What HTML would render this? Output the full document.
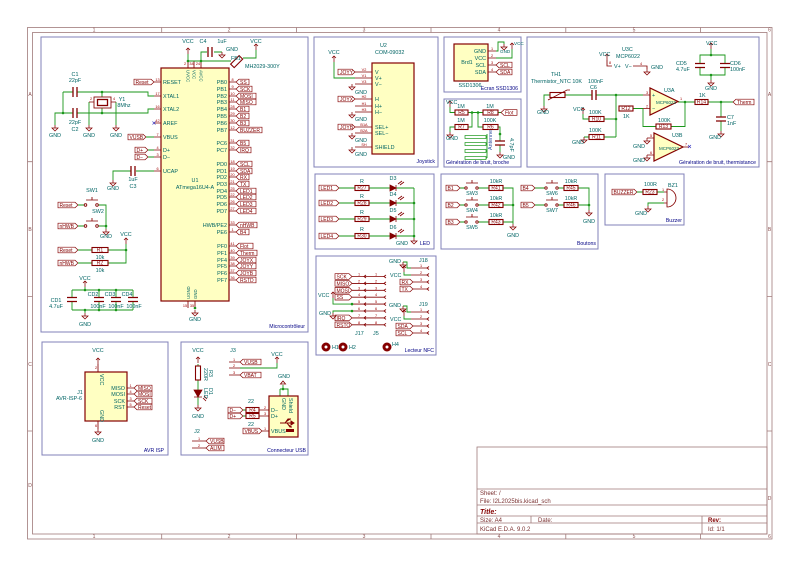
<!DOCTYPE html>
<html><head><meta charset="utf-8">
<style>
html,body{margin:0;padding:0;background:#fff;}
svg{display:block;}
text{font-family:"Liberation Sans",sans-serif;}
.w{stroke:#1a961a;stroke-width:.9;fill:none}
.p{stroke:#840000;stroke-width:.85;fill:none}
.pt{stroke:#840000;stroke-width:1.3;fill:none}
.bd{stroke:#840000;stroke-width:1.2;fill:#ffffc2}
.rs{stroke:#840000;stroke-width:1.1;fill:#fff}
.fr{stroke:#8080b8;stroke-width:1;fill:none}
.brd{stroke:#a07a7a;stroke-width:.8;fill:none}
.lb{stroke:#840000;stroke-width:.65;fill:#fff}
.t{fill:#006464;font-size:5.4px}
.r{fill:#840000;font-size:5px}
.n{fill:#a00000;font-size:3.8px}
.bl{fill:#000084;font-size:5.2px}
.k{fill:#8a5050;font-size:5px}
.tb{fill:#7a3030;font-size:6px}
</style></head><body>
<svg width="800" height="566" viewBox="0 0 800 566" xmlns="http://www.w3.org/2000/svg">
<defs>
<g id="gnd"><path d="M0,0v3M-3,3h6l-3,3z" stroke="#840000" stroke-width=".75" fill="none"/></g>
<g id="vcc"><path d="M0,0v-6M-2,-4l2,-2l2,2" stroke="#840000" stroke-width=".75" fill="none"/></g>
<circle id="dot" r="1.3" fill="#1a961a"/>
</defs>

<!-- ===== Border ===== -->
<rect x="27.5" y="27.5" width="744.5" height="511.5" class="brd"/>
<rect x="32.5" y="32.5" width="734.5" height="501.5" class="brd"/>
<path class="brd" d="M161.7,27.5v5M296.4,27.5v5M431,27.5v5M565.8,27.5v5M700.5,27.5v5M161.7,534v5M296.4,534v5M431,534v5M565.8,534v5M700.5,534v5M27.5,161.7h5M27.5,296.4h5M27.5,431h5M767,161.7h5M767,296.4h5M767,431h5"/>
<g class="k" text-anchor="middle">
<text x="94" y="31.5">1</text><text x="229" y="31.5">2</text><text x="364" y="31.5">3</text><text x="499" y="31.5">4</text><text x="634" y="31.5">5</text><text x="769.5" y="31.5">6</text>
<text x="94" y="538">1</text><text x="229" y="538">2</text><text x="364" y="538">3</text><text x="499" y="538">4</text><text x="634" y="538">5</text><text x="769.5" y="538">6</text>
<text x="30" y="96">A</text><text x="30" y="231">B</text><text x="30" y="366">C</text><text x="30" y="487">D</text>
<text x="769.5" y="96">A</text><text x="769.5" y="231">B</text><text x="769.5" y="366">C</text><text x="769.5" y="500">D</text>
</g>

<!-- ===== Frames ===== -->
<rect x="41" y="37" width="267" height="295" class="fr"/>
<rect x="314" y="37" width="124" height="130" class="fr"/>
<rect x="444" y="37" width="77" height="55" class="fr"/>
<rect x="444" y="99" width="77" height="68" class="fr"/>
<rect x="527" y="37" width="232" height="130" class="fr"/>
<rect x="315" y="174" width="119" height="75" class="fr"/>
<rect x="441" y="174" width="157" height="75" class="fr"/>
<rect x="605" y="174" width="79" height="51" class="fr"/>
<rect x="316" y="256" width="120" height="99" class="fr"/>
<rect x="42" y="342" width="126" height="113" class="fr"/>
<rect x="181" y="342" width="127" height="113" class="fr"/>

<!-- ===== Title block ===== -->
<rect x="477" y="447" width="290" height="87" class="brd"/>
<path class="brd" d="M477,489h290M477,505h290M477,516h290M477,523h290M531,516v7M702,516v18"/>
<g class="tb">
<text x="480" y="495">Sheet: /</text>
<text x="480" y="503">File: I2L2025bis.kicad_sch</text>
<text x="480" y="514" font-size="7" font-weight="bold" font-style="italic" fill="#840000">Title:</text>
<text x="480" y="522">Size: A4</text>
<text x="538" y="522">Date:</text>
<text x="708" y="522" font-weight="bold" fill="#840000">Rev:</text>
<text x="480" y="531">KiCad E.D.A. 9.0.2</text>
<text x="708" y="531">Id: 1/1</text>
</g>

<!-- ===== Microcontroleur ===== -->
<rect x="161" y="68" width="68" height="233" class="bd"/>
<path class="p" d="M229,82h7M229,89h7M229,96h7M229,102h7M229,109h7M229,116h7M229,123h7M229,130h7M229,143h7M229,150h7M229,164h7M229,171h7M229,177h7M229,184h7M229,191h7M229,197h7M229,204h7M229,211h7M229,225h7M229,232h7M229,246h7M229,253h7M229,260h7M229,266h7M229,273h7M229,280h7M154,82h7M154,96h7M154,109h7M154,123h7M154,137h7M154,150h7M154,157h7M154,171h7M188,61v7M194,61v7M201,61v7M188,301v7M195,301v7"/>
<path class="lb" d="M236,82l3,-2.8h10v5.6h-10zM236,89l3,-2.8h13v5.6h-13zM236,96l3,-2.8h17v5.6h-17zM236,102l3,-2.8h17v5.6h-17zM236,109l3,-2.8h10v5.6h-10zM236,116l3,-2.8h10v5.6h-10zM236,123l3,-2.8h10v5.6h-10zM236,130l3,-2.8h23v5.6h-23zM236,143l3,-2.8h10v5.6h-10zM236,150l3,-2.8h12v5.6h-12zM236,164l3,-2.8h13v5.6h-13zM236,171l3,-2.8h13v5.6h-13zM236,177l3,-2.8h10v5.6h-10zM236,184l3,-2.8h10v5.6h-10zM236,191l3,-2.8h17v5.6h-17zM236,197l3,-2.8h17v5.6h-17zM236,204l3,-2.8h17v5.6h-17zM236,211l3,-2.8h17v5.6h-17zM236,225l3,-2.8h18v5.6h-18zM236,232l3,-2.8h10v5.6h-10zM236,246l3,-2.8h14v5.6h-14zM236,253l3,-2.8h18v5.6h-18zM236,260l3,-2.8h17v5.6h-17zM236,266l3,-2.8h17v5.6h-17zM236,273l3,-2.8h17v5.6h-17zM236,280l3,-2.8h17v5.6h-17z"/>
<g class="r" font-size="4.9">
<text x="240" y="84">SS</text><text x="240" y="91">SCK</text><text x="240" y="98">MOSI</text><text x="240" y="104">MISO</text><text x="240" y="111">B1</text><text x="240" y="118">B2</text><text x="240" y="125">B3</text><text x="240" y="132">BUZZER</text><text x="240" y="145">B5</text><text x="240" y="152">IRQ</text><text x="240" y="166">SCL</text><text x="240" y="173">SDA</text><text x="240" y="179">RX</text><text x="240" y="186">TX</text><text x="240" y="193">LED1</text><text x="240" y="199">LED2</text><text x="240" y="206">LED3</text><text x="240" y="213">LED4</text><text x="240" y="227">nHWB</text><text x="240" y="234">B4</text><text x="240" y="248">Flot</text><text x="240" y="255">Therm</text><text x="240" y="262">JOYX</text><text x="240" y="268">JOYY</text><text x="240" y="275">JOYB</text><text x="240" y="282">RSTD</text>
</g>
<g class="t" font-size="5" text-anchor="end">
<text x="227" y="84">PB0</text><text x="227" y="91">PB1</text><text x="227" y="98">PB2</text><text x="227" y="104">PB3</text><text x="227" y="111">PB4</text><text x="227" y="118">PB5</text><text x="227" y="125">PB6</text><text x="227" y="132">PB7</text><text x="227" y="145">PC6</text><text x="227" y="152">PC7</text><text x="227" y="166">PD0</text><text x="227" y="173">PD1</text><text x="227" y="179">PD2</text><text x="227" y="186">PD3</text><text x="227" y="193">PD4</text><text x="227" y="199">PD5</text><text x="227" y="206">PD6</text><text x="227" y="213">PD7</text><text x="227" y="227">HWB/PE2</text><text x="227" y="234">PE6</text><text x="227" y="248">PF0</text><text x="227" y="255">PF1</text><text x="227" y="262">PF4</text><text x="227" y="268">PF5</text><text x="227" y="275">PF6</text><text x="227" y="282">PF7</text>
</g>
<g class="t" font-size="5">
<text x="163" y="84">RESET</text><text x="163" y="98">XTAL1</text><text x="163" y="111">XTAL2</text><text x="163" y="125">AREF</text><text x="163" y="139">VBUS</text><text x="163" y="152">D+</text><text x="163" y="159">D−</text><text x="163" y="173">UCAP</text>
<text transform="translate(186.5,70) rotate(90)" font-size="4.3">UVCC</text>
<text transform="translate(192.5,70) rotate(90)" font-size="4.3">VCC</text>
<text transform="translate(199.5,70) rotate(90)" font-size="4.3">AVCC</text>
<text transform="translate(190,299) rotate(-90)" font-size="4.3">UGND</text>
<text transform="translate(197,299) rotate(-90)" font-size="4.3">GND</text>
</g>
<g class="n" text-anchor="middle">
<text x="232.5" y="81">8</text><text x="232.5" y="88">9</text><text x="232.5" y="95">10</text><text x="232.5" y="101">11</text><text x="232.5" y="108">28</text><text x="232.5" y="115">29</text><text x="232.5" y="122">30</text><text x="232.5" y="129">12</text><text x="232.5" y="142">31</text><text x="232.5" y="149">32</text><text x="232.5" y="163">18</text><text x="232.5" y="170">19</text><text x="232.5" y="176">20</text><text x="232.5" y="183">21</text><text x="232.5" y="190">25</text><text x="232.5" y="196">22</text><text x="232.5" y="203">26</text><text x="232.5" y="210">27</text><text x="232.5" y="224">33</text><text x="232.5" y="231">1</text><text x="232.5" y="245">41</text><text x="232.5" y="252">40</text><text x="232.5" y="259">39</text><text x="232.5" y="265">38</text><text x="232.5" y="272">37</text><text x="232.5" y="279">36</text>
<text x="157.5" y="81">13</text><text x="157.5" y="95">17</text><text x="157.5" y="108">16</text><text x="157.5" y="122">42</text><text x="157.5" y="136">7</text><text x="157.5" y="149">4</text><text x="157.5" y="156">3</text><text x="157.5" y="170">6</text>
<text x="185" y="65">2</text><text x="191.5" y="65">34</text><text x="198" y="65">24</text><text x="185" y="307">15</text><text x="192" y="307">35</text>
</g>
<text class="t" x="195" y="182" text-anchor="middle">U1</text>
<text class="t" x="195" y="189" text-anchor="middle">ATmega16U4-A</text>
<path d="M152.5,121.5l3,3M155.5,121.5l-3,3" stroke="#3030c0" stroke-width=".6"/>
<!-- left labels -->
<path class="lb" d="M154,82l-3,-2.8h-17v5.6h17zM146,137l-3,-2.8h-15v5.6h15zM148,150l-3,-2.8h-10v5.6h10zM148,157l-3,-2.8h-10v5.6h10z"/>
<g class="r" font-size="4.9"><text x="135.5" y="84">Reset</text><text x="129.5" y="139">VUSB</text><text x="136.5" y="152">D+</text><text x="136.5" y="159">D−</text></g>
<path class="w" d="M146,137h8M148,150h6M148,157h6"/>
<!-- top power -->
<path class="w" d="M188,61h13M188,61V54M201,61V52H207M214,52H222M201,61H231M243,58H256V50"/>
<use href="#vcc" x="188" y="54"/><use href="#vcc" x="256" y="50"/>
<use href="#dot" x="188" y="61"/><use href="#dot" x="201" y="61"/>
<path class="pt" d="M208,47v10M212,47v10"/>
<use href="#gnd" x="222" y="52"/>
<rect x="234" y="56" width="5" height="12" class="rs" transform="rotate(45 237 62)"/>
<g class="t" text-anchor="middle"><text x="188" y="43">VCC</text><text x="256" y="43">VCC</text><text x="203" y="43">C4</text><text x="222" y="43">1uF</text></g>
<g class="t" font-size="5"><text x="226" y="51">GND</text><text x="231" y="60">FB1</text><text x="245" y="68">MH2029-300Y</text></g>
<!-- crystal & caps -->
<path class="w" d="M63,92h10M77,92H148V96H154M63,113h10M77,113H148V109H154M63,92V113M63,113H55V125M89,102V125M116,102V125M102,92V97M102,113V108"/>
<path class="pt" d="M73,87v10M77,87v10M73,108v10M77,108v10"/>
<path class="p" d="M94,102h-5M111,102h5"/>
<rect x="94" y="97" width="17" height="11" class="p"/>
<rect x="97.5" y="99.5" width="10" height="6" class="pt" fill="#fff"/>
<use href="#dot" x="63" y="113"/><use href="#dot" x="102" y="92"/><use href="#dot" x="102" y="113"/>
<use href="#gnd" x="55" y="125"/><use href="#gnd" x="89" y="125"/><use href="#gnd" x="116" y="125"/>
<g class="t" text-anchor="middle"><text x="75" y="76">C1</text><text x="75" y="82">22pF</text><text x="75" y="124">22pF</text><text x="75" y="131">C2</text><text x="55" y="137">GND</text><text x="89" y="137">GND</text><text x="116" y="137">GND</text><text x="122" y="101">Y1</text><text x="124" y="107">8Mhz</text></g>
<g class="n"><text x="90" y="100">2</text><text x="113" y="100">4</text></g>
<!-- UCAP -->
<path class="w" d="M154,171H136M131,171H113V180"/>
<path class="pt" d="M131,166v10M135,166v10"/>
<use href="#gnd" x="113" y="180"/>
<g class="t" text-anchor="middle"><text x="133" y="181">1uF</text><text x="133" y="188">C3</text><text x="113" y="190">GND</text></g>
<!-- switches -->
<path class="lb" d="M78,205l-3,-2.8h-17v5.6h17zM78,226l-3,-2.8h-17v5.6h17zM78,250l-3,-2.8h-17v5.6h17zM78,263l-3,-2.8h-17v5.6h17z"/>
<g class="r" font-size="4.9"><text x="59.5" y="207">Reset</text><text x="59.5" y="228">nHWB</text><text x="59.5" y="252">Reset</text><text x="59.5" y="265">nHWB</text></g>
<path class="w" d="M78,205h6M98,205h8V229M78,226h6M98,226h8M78,250h14M108,250h18V244M78,263h14M108,263h18V250"/>
<path class="p" d="M86,200h12M92,200v-3M86,221h12M92,221v-3"/>
<circle cx="85.5" cy="205" r="1.3" class="p" fill="#fff"/><circle cx="97" cy="205" r="1.3" class="p" fill="#fff"/>
<circle cx="85.5" cy="226" r="1.3" class="p" fill="#fff"/><circle cx="97" cy="226" r="1.3" class="p" fill="#fff"/>
<use href="#dot" x="106" y="226"/><use href="#gnd" x="106" y="229"/>
<rect x="92" y="247.5" width="16" height="5" class="rs"/><rect x="92" y="260.5" width="16" height="5" class="rs"/>
<use href="#dot" x="126" y="250"/><use href="#vcc" x="126" y="244"/>
<g class="t" text-anchor="middle"><text x="92" y="192">SW1</text><text x="98" y="213">SW2</text><text x="106" y="238">GND</text><text x="126" y="236">VCC</text><text x="100" y="259">10k</text><text x="100" y="272">10k</text></g>
<g class="r" font-size="4" text-anchor="middle"><text x="100" y="251.5">R1</text><text x="100" y="264.5">R2</text></g>
<!-- decoupling -->
<path class="w" d="M72,290H133M72,310H133M72,290v7.5M72,301.5V310M99,290v7.5M99,301.5V310M116,290v7.5M116,301.5V310M133,290v7.5M133,301.5V310M85,290v-3M85,310v3"/>
<path class="pt" d="M67,297.5h10M67,301.5h10M94,297.5h10M94,301.5h10M111,297.5h10M111,301.5h10M128,297.5h10M128,301.5h10"/>
<use href="#dot" x="85" y="290"/><use href="#dot" x="99" y="290"/><use href="#dot" x="116" y="290"/><use href="#dot" x="85" y="310"/><use href="#dot" x="99" y="310"/><use href="#dot" x="116" y="310"/>
<use href="#vcc" x="85" y="287"/><use href="#gnd" x="85" y="313"/>
<g class="t" text-anchor="middle"><text x="85" y="280">VCC</text><text x="85" y="326">GND</text><text x="56" y="302">CD1</text><text x="56" y="308">4.7uF</text><text x="93" y="296">CD2</text><text x="110" y="296">CD3</text><text x="127" y="296">CD4</text><text x="98" y="308">100nF</text><text x="116" y="308">100nF</text><text x="134" y="308">100nF</text></g>
<!-- bottom gnd -->
<use href="#dot" x="195" y="308"/><use href="#gnd" x="195" y="310"/>
<text class="t" x="195" y="321" text-anchor="middle">GND</text>
<text class="bl" x="305" y="328" text-anchor="end">Microcontrôleur</text>

<!-- ===== Joystick ===== -->
<rect x="372" y="63" width="42" height="91" class="bd"/>
<path class="p" d="M355,72h17M355,78h17M355,84h17M355,99h17M355,106h17M355,112h17M355,127h17M355,133h17M355,147h17"/>
<g class="n" text-anchor="middle"><text x="364" y="71">V2</text><text x="364" y="77">V1</text><text x="364" y="83">V3</text><text x="364" y="98">H2</text><text x="364" y="105">H1</text><text x="364" y="111">H3</text><text x="364" y="126">B1A</text><text x="364" y="132">B2A</text><text x="364" y="146">SH</text></g>
<g class="t" font-size="4.8"><text x="375" y="74">V</text><text x="375" y="80">V+</text><text x="375" y="86">V−</text><text x="375" y="101">H</text><text x="375" y="108">H+</text><text x="375" y="114">H−</text><text x="375" y="129">SEL+</text><text x="375" y="135">SEL−</text><text x="375" y="149">SHIELD</text></g>
<path class="lb" d="M355,72l-3,-2.8h-14v5.6h14zM355,99l-3,-2.8h-14v5.6h14zM355,127l-3,-2.8h-14v5.6h14z"/>
<g class="r" font-size="4.6"><text x="340" y="74">JOYY</text><text x="340" y="101">JOYX</text><text x="340" y="129">JOYB</text></g>
<path class="w" d="M334,62V78H355"/>
<use href="#vcc" x="334" y="62"/>
<use href="#gnd" x="352" y="84"/><use href="#gnd" x="352" y="112"/><use href="#gnd" x="352" y="133"/><use href="#gnd" x="352" y="147"/>
<g class="t" font-size="5"><text x="334" y="54" text-anchor="middle">VCC</text><text x="355" y="94">GND</text><text x="355" y="121">GND</text><text x="355" y="142">GND</text><text x="355" y="156">GND</text><text x="380" y="47">U2</text><text x="375" y="54">COM-09032</text></g>
<text class="bl" x="435" y="163" text-anchor="end">Joystick</text>

<!-- ===== Ecran ===== -->
<rect x="454" y="44" width="34" height="37" class="bd"/>
<path class="p" d="M488,51h8M488,58h8M488,65h8M488,72h8"/>
<g class="n" text-anchor="middle"><text x="492" y="50">1</text><text x="492" y="57">2</text><text x="492" y="64">3</text><text x="492" y="71">4</text></g>
<g class="t" font-size="5" text-anchor="end"><text x="486" y="53">GND</text><text x="486" y="60">VCC</text><text x="486" y="67">SCL</text><text x="486" y="74">SDA</text></g>
<text class="t" x="467" y="64" text-anchor="middle">Brd1</text>
<path class="w" d="M496,51H498V42H504V44M496,58H512V49"/>
<use href="#gnd" x="504" y="44"/><use href="#vcc" x="512" y="49"/>
<g class="t"><text x="500" y="53" font-size="4.6">GND</text><text x="514" y="45" font-size="4.6">VCC</text><text x="470" y="87" text-anchor="middle">SSD1306</text></g>
<path class="lb" d="M496,65l3,-2.8h13v5.6h-13zM496,72l3,-2.8h13v5.6h-13z"/>
<g class="r" font-size="4.6"><text x="500" y="67">SCL</text><text x="500" y="74">SDA</text></g>
<text class="bl" x="518" y="90" text-anchor="end" font-size="5">Ecran SSD1306</text>

<!-- ===== Bruit broche ===== -->
<path class="w" d="M450,107V112.5H455M468,112.5H483M498,112.5H501M455,127H450V132M468,127H472V112.5M478,112.5V127H483M498,127H500V141M500,145V152M487,134V158M486,137H487M486,144H487M486,151H487M486,158H487"/>
<use href="#vcc" x="450" y="107"/><use href="#gnd" x="450" y="132"/><use href="#gnd" x="500" y="152"/>
<use href="#dot" x="472" y="112.5"/><use href="#dot" x="478" y="112.5"/><use href="#dot" x="500" y="134"/>
<rect x="455" y="110" width="13" height="5" class="rs"/><rect x="483" y="110" width="15" height="5" class="rs"/><rect x="455" y="124.5" width="13" height="5" class="rs"/><rect x="483" y="124.5" width="15" height="5" class="rs"/>
<g class="r" font-size="3.8" text-anchor="middle"><text x="461.5" y="114">R5</text><text x="490.5" y="114">R8</text><text x="461.5" y="128.5">R7</text><text x="490.5" y="128.5">R6</text></g>
<g stroke="#1a961a" stroke-width=".7" fill="none"><rect x="465" y="135.5" width="21" height="3"/><rect x="465" y="142.5" width="21" height="3"/><rect x="465" y="149.5" width="21" height="3"/><rect x="465" y="156.5" width="21" height="3"/></g>
<path class="pt" d="M495,141h10M495,145h10"/>
<path class="lb" d="M501,112.5l3,-2.8h13v5.6h-13z"/>
<text class="r" x="505" y="114.5" font-size="4.6">Flot</text>
<g class="t" font-size="4.8"><text x="446" y="104">VCC</text><text x="461" y="108" text-anchor="middle">1M</text><text x="490" y="108" text-anchor="middle">1M</text><text x="461" y="122" text-anchor="middle">1M</text><text x="490" y="122" text-anchor="middle">100K</text><text x="446" y="140">GND</text><text x="503" y="159">GND</text>
<text transform="translate(492,150) rotate(-90)" fill="#3050a0">Antenne</text><text transform="translate(510,138) rotate(90)">4.7pF</text></g>
<text class="bl" x="446" y="164" font-size="5">Génération de bruit, broche</text>

<!-- ===== Thermistance ===== -->
<path class="w" d="M550,95H544V106M565,95H592M596,95H643M616,95V137M604,119H616M604,137H616M583,114V119H589M589,137H584M633,108.5H643M643,108.5V126.5H656M671,126.5H685V102M678,102H695M708,102H733M721,102V117M721,121V131M711,55H700V63M711,55H725V63M700,68V75H725V68M711,75V80M711,55V49"/>
<rect x="550" y="92.5" width="15" height="5" class="rs"/>
<path class="p" d="M548,100L567,90h3"/>
<path class="pt" d="M592,90v10M596,90v10M716,117h10M716,121h10M695,63.5h10M695,67.5h10M720,63.5h10M720,67.5h10"/>
<use href="#dot" x="616" y="95"/><use href="#dot" x="616" y="119"/><use href="#dot" x="685" y="102"/><use href="#dot" x="721" y="102"/><use href="#dot" x="711" y="55"/><use href="#dot" x="711" y="75"/>
<use href="#gnd" x="544" y="106"/><use href="#gnd" x="584" y="137"/><use href="#gnd" x="721" y="131"/><use href="#gnd" x="711" y="80"/><use href="#vcc" x="583" y="114"/><use href="#vcc" x="711" y="49"/>
<rect x="619" y="106" width="14" height="5" class="rs"/><rect x="589" y="116.5" width="15" height="5" class="rs"/><rect x="589" y="134.5" width="15" height="5" class="rs"/><rect x="656" y="124" width="15" height="5" class="rs"/><rect x="695" y="99.5" width="13" height="5" class="rs"/>
<g class="r" font-size="3.8" text-anchor="middle"><text x="626" y="110">R12</text><text x="596.5" y="120.5">R10</text><text x="596.5" y="138.5">R11</text><text x="663.5" y="128">R13</text><text x="701.5" y="103.5">R14</text></g>
<polygon points="650,88 650,115 678,101.5" class="bd"/>
<polygon points="654,133 654,161 683,147" class="bd"/>
<path class="p" d="M643,95h7M643,108.5h7M647,138h7M647,155h7M683,147h6M607,60V66h5M633,66h14v3"/>
<path d="M688,145l3,3M691,145l-3,3" stroke="#3030c0" stroke-width=".6"/>
<use href="#gnd" x="647" y="138"/><use href="#gnd" x="647" y="155"/><use href="#gnd" x="647" y="69"/><use href="#vcc" x="607" y="60"/>
<g class="t" font-size="4.8"><text x="652" y="97">+</text><text x="652" y="110.5">−</text><text x="656" y="104" font-size="4.5">MCP6022</text><text x="659" y="150" font-size="4.5">MCP6022</text><text x="664" y="92">U3A</text><text x="672" y="137">U3B</text>
<text x="622" y="51">U3C</text><text x="616" y="58">MCP6022</text><text x="614" y="68">V+</text><text x="625" y="68">V−</text><text x="599" y="56">VCC</text><text x="651" y="69">GND</text>
<text x="551" y="76">TH1</text><text x="531" y="83">Thermistor_NTC 10K</text><text x="588" y="83">100nF</text><text x="590" y="89">C6</text><text x="537" y="114">GND</text>
<text x="573" y="111">VCC</text><text x="589" y="114">100K</text><text x="589" y="132">100K</text><text x="572" y="144">GND</text><text x="623" y="118">1K</text><text x="658" y="122">100K</text><text x="699" y="97">1K</text>
<text x="727" y="119">C7</text><text x="727" y="125">1nF</text><text x="709" y="139">GND</text>
<text x="706" y="45">VCC</text><text x="676" y="65">CD5</text><text x="676" y="71">4.7uF</text><text x="730" y="65">CD6</text><text x="730" y="71">100nF</text><text x="705" y="90">GND</text>
<text x="633" y="148">GND</text><text x="633" y="162">GND</text></g>
<g class="n"><text x="646" y="94">3</text><text x="646" y="107.5">2</text><text x="680" y="100">1</text><text x="650" y="137">5</text><text x="650" y="154">6</text><text x="685" y="145.5">7</text><text x="609" y="64">8</text><text x="640" y="65">4</text></g>
<path class="lb" d="M733,102l3,-2.8h18v5.6h-18z"/>
<text class="r" x="737" y="104" font-size="4.9">Therm</text>
<text class="bl" x="756" y="164" text-anchor="end" font-size="5.2">Génération de bruit, thermistance</text>

<!-- ===== LED ===== -->
<path class="w" d="M339,188H355M369,188H390M396,188H414M339,203H355M369,203H390M396,203H414M339,219H355M369,219H390M396,219H414M339,236H355M369,236H390M396,236H414M414,188V238"/>
<path class="lb" d="M339,188l-3,-2.8h-17v5.6h17zM339,203l-3,-2.8h-17v5.6h17zM339,219l-3,-2.8h-17v5.6h17zM339,236l-3,-2.8h-17v5.6h17z"/>
<g class="r" font-size="4.9"><text x="320.5" y="190">LED1</text><text x="320.5" y="205">LED2</text><text x="320.5" y="221">LED3</text><text x="320.5" y="238">LED4</text></g>
<g class="rs"><rect x="355" y="185.5" width="14" height="5"/><rect x="355" y="200.5" width="14" height="5"/><rect x="355" y="216.5" width="14" height="5"/><rect x="355" y="233.5" width="14" height="5"/></g>
<g class="r" font-size="3.8" text-anchor="middle"><text x="362" y="189.5">R27</text><text x="362" y="204.5">R28</text><text x="362" y="220.5">R29</text><text x="362" y="237.5">R30</text></g>
<g fill="#840000" stroke="#840000" stroke-width=".8"><path d="M390,185v6l6,-3zM396,185v6"/><path d="M390,200v6l6,-3zM396,200v6"/><path d="M390,216v6l6,-3zM396,216v6"/><path d="M390,233v6l6,-3zM396,233v6"/></g>
<path class="p" d="M398,184l4,-3M400,185l4,-3M398,199l4,-3M400,200l4,-3M398,215l4,-3M400,216l4,-3M398,232l4,-3M400,233l4,-3"/>
<use href="#dot" x="414" y="203"/><use href="#dot" x="414" y="219"/><use href="#dot" x="414" y="236"/><use href="#gnd" x="414" y="238"/>
<g class="t" font-size="4.8" text-anchor="middle"><text x="362" y="183">R</text><text x="362" y="198">R</text><text x="362" y="214">R</text><text x="362" y="231">R</text><text x="393" y="180">D3</text><text x="393" y="196">D4</text><text x="393" y="212">D5</text><text x="393" y="229">D6</text><text x="402" y="245">GND</text></g>
<text class="bl" x="430" y="245" text-anchor="end">LED</text>

<!-- ===== Boutons ===== -->
<path class="w" d="M460,188H465M478,188H489M503,188H513V224M460,205H465M478,205H489M503,205H513M460,222H465M478,222H489M503,222H513M535,188H545M558,188H564M578,188H589V210M535,205H545M558,205H564M578,205H589"/>
<path class="lb" d="M460,188l-3,-2.8h-11v5.6h11zM460,205l-3,-2.8h-11v5.6h11zM460,222l-3,-2.8h-11v5.6h11zM535,188l-3,-2.8h-11v5.6h11zM535,205l-3,-2.8h-11v5.6h11z"/>
<g class="r" font-size="4.9"><text x="447.5" y="190">B1</text><text x="447.5" y="207">B2</text><text x="447.5" y="224">B3</text><text x="522.5" y="190">B4</text><text x="522.5" y="207">B5</text></g>
<path class="p" d="M466,183h12M472,183v-3M466,200h12M472,200v-3M466,217h12M472,217v-3M546,183h12M552,183v-3M546,200h12M552,200v-3"/>
<g class="p" fill="#fff"><circle cx="466" cy="188" r="1.2"/><circle cx="477" cy="188" r="1.2"/><circle cx="466" cy="205" r="1.2"/><circle cx="477" cy="205" r="1.2"/><circle cx="466" cy="222" r="1.2"/><circle cx="477" cy="222" r="1.2"/><circle cx="546" cy="188" r="1.2"/><circle cx="557" cy="188" r="1.2"/><circle cx="546" cy="205" r="1.2"/><circle cx="557" cy="205" r="1.2"/></g>
<g class="rs"><rect x="489" y="185.5" width="14" height="5"/><rect x="489" y="202.5" width="14" height="5"/><rect x="489" y="219.5" width="14" height="5"/><rect x="564" y="185.5" width="14" height="5"/><rect x="564" y="202.5" width="14" height="5"/></g>
<g class="r" font-size="3.8" text-anchor="middle"><text x="496" y="189.5">R41</text><text x="496" y="206.5">R42</text><text x="496" y="223.5">R43</text><text x="571" y="189.5">R45</text><text x="571" y="206.5">R46</text></g>
<use href="#dot" x="513" y="205"/><use href="#dot" x="589" y="205"/><use href="#gnd" x="513" y="224"/><use href="#gnd" x="589" y="210"/>
<g class="t" font-size="4.8" text-anchor="middle"><text x="472" y="195">SW3</text><text x="472" y="212">SW4</text><text x="472" y="229">SW5</text><text x="552" y="195">SW6</text><text x="552" y="212">SW7</text><text x="496" y="183">10kR</text><text x="496" y="200">10kR</text><text x="496" y="217">10kR</text><text x="571" y="183">10kR</text><text x="571" y="200">10kR</text><text x="513" y="237">GND</text><text x="589" y="223">GND</text></g>
<text class="bl" x="596" y="245" text-anchor="end">Boutons</text>

<!-- ===== Buzzer ===== -->
<path class="lb" d="M637,192l-3,-2.8h-22v5.6h22z"/>
<text class="r" x="613.5" y="194" font-size="4.6">BUZZER</text>
<path class="w" d="M637,192h6M657,192h7M664,203H648V206"/>
<rect x="643" y="189.5" width="14" height="5" class="rs"/>
<text class="r" x="650" y="193.5" font-size="3.8" text-anchor="middle">R23</text>
<path d="M667,189A9,9 0 0 1 667,207Z" class="p" fill="#fff"/>
<path class="p" d="M664,192h3M664,203h3"/>
<use href="#gnd" x="648" y="206"/>
<g class="t" font-size="4.8"><text x="644" y="186">100R</text><text x="668" y="187">BZ1</text><text x="635" y="215">GND</text></g>
<g class="n"><text x="662" y="191">1</text><text x="662" y="201">2</text></g>
<text class="bl" x="682" y="222" text-anchor="end">Buzzer</text>

<!-- ===== Lecteur NFC ===== -->
<path class="p" d="M352,276.5H384M352,283.4H384M352,290.3H384M352,297.2H384M352,304.1H384M352,311H384M352,317.9H384M352,324.8H384M411,268H427M411,275H427M411,282H427M411,289H427M411,312H427M411,319H427M411,326H427M411,333H427"/>
<path class="p" d="M366,275l-2,1.5l2,1.5M366,281.9l-2,1.5l2,1.5M366,288.8l-2,1.5l2,1.5M366,295.7l-2,1.5l2,1.5M366,302.6l-2,1.5l2,1.5M366,309.5l-2,1.5l2,1.5M366,316.4l-2,1.5l2,1.5M366,323.3l-2,1.5l2,1.5M386,275l-2,1.5l2,1.5M386,281.9l-2,1.5l2,1.5M386,288.8l-2,1.5l2,1.5M386,295.7l-2,1.5l2,1.5M386,302.6l-2,1.5l2,1.5M386,309.5l-2,1.5l2,1.5M386,316.4l-2,1.5l2,1.5M386,323.3l-2,1.5l2,1.5M429,266.5l-2,1.5l2,1.5M429,273.5l-2,1.5l2,1.5M429,280.5l-2,1.5l2,1.5M429,287.5l-2,1.5l2,1.5M429,310.5l-2,1.5l2,1.5M429,317.5l-2,1.5l2,1.5M429,324.5l-2,1.5l2,1.5M429,331.5l-2,1.5l2,1.5"/>
<path class="lb" d="M352,276.5l-3,-2.8h-14v5.6h14zM352,283.4l-3,-2.8h-14v5.6h14zM352,290.3l-3,-2.8h-14v5.6h14zM352,297.2l-3,-2.8h-14v5.6h14zM352,317.9l-3,-2.8h-14v5.6h14zM352,324.8l-3,-2.8h-14v5.6h14zM413,282l-3,-2.8h-10v5.6h10zM413,289l-3,-2.8h-10v5.6h10zM413,326l-3,-2.8h-14v5.6h14zM413,333l-3,-2.8h-14v5.6h14z"/>
<g class="r" font-size="4.6"><text x="336.5" y="278.5">SCK</text><text x="336.5" y="285.4">MISO</text><text x="336.5" y="292.3">MOSI</text><text x="336.5" y="299.2">SS</text><text x="336.5" y="319.9">IRQ</text><text x="336.5" y="326.8">RSTO</text><text x="401.5" y="284">RX</text><text x="401.5" y="291">TX</text><text x="397.5" y="328">SDA</text><text x="397.5" y="335">SCL</text></g>
<g class="n" text-anchor="middle"><text x="359" y="275.5">1</text><text x="359" y="282.4">2</text><text x="359" y="289.3">3</text><text x="359" y="296.2">4</text><text x="359" y="303.1">5</text><text x="359" y="310">6</text><text x="359" y="316.9">7</text><text x="359" y="323.8">8</text><text x="376" y="275.5">1</text><text x="376" y="282.4">2</text><text x="376" y="289.3">3</text><text x="376" y="296.2">4</text><text x="376" y="303.1">5</text><text x="376" y="310">6</text><text x="376" y="316.9">7</text><text x="376" y="323.8">8</text><text x="421" y="267">1</text><text x="421" y="274">2</text><text x="421" y="281">3</text><text x="421" y="288">4</text><text x="421" y="311">1</text><text x="421" y="318">2</text><text x="421" y="325">3</text><text x="421" y="332">4</text></g>
<path class="w" d="M333,298V304.1H352M352,311H333V313M411,268H407V262H403M411,275H404V272M411,312H407V306H403M411,319H404V316"/>
<use href="#dot" x="352" y="304.1"/><use href="#dot" x="352" y="311"/>
<use href="#vcc" x="333" y="298"/><use href="#gnd" x="333" y="313"/><use href="#gnd" x="403" y="262"/><use href="#gnd" x="403" y="306"/><use href="#vcc" x="404" y="272"/><use href="#vcc" x="404" y="316"/>
<g class="t" font-size="4.8"><text x="318" y="297">VCC</text><text x="319" y="315">GND</text><text x="355" y="335">J17</text><text x="373" y="335">J5</text><text x="389" y="263">GND</text><text x="390" y="277">VCC</text><text x="419" y="262">J18</text><text x="389" y="307">GND</text><text x="390" y="321">VCC</text><text x="419" y="306">J19</text><text x="332" y="349">H1</text><text x="349" y="349">H2</text><text x="392" y="346">H4</text></g>
<circle cx="326" cy="347" r="4.5" fill="#840000"/><circle cx="326" cy="347" r="1.5" fill="#fff"/>
<circle cx="343" cy="347" r="4.5" fill="#840000"/><circle cx="343" cy="347" r="1.5" fill="#fff"/>
<circle cx="387" cy="347" r="4.5" fill="#840000"/><circle cx="387" cy="347" r="1.5" fill="#fff"/>
<text class="bl" x="434" y="352" text-anchor="end" font-size="5">Lecteur NFC</text>

<!-- ===== AVR ISP ===== -->
<rect x="85" y="372" width="42" height="49" class="bd"/>
<path class="p" d="M98,364v8M98,421v8M127,388h7M127,394h7M127,401h7M127,407h7"/>
<use href="#vcc" x="98" y="364"/><use href="#gnd" x="98" y="429"/>
<g class="t" font-size="4.8" text-anchor="end"><text x="125" y="390">MISO</text><text x="125" y="396">MOSI</text><text x="125" y="403">SCK</text><text x="125" y="409">RST</text></g>
<g class="t" font-size="4.5"><text transform="translate(100,374) rotate(90)">VCC</text><text transform="translate(100,410) rotate(90)">GND</text></g>
<g class="n" text-anchor="middle"><text x="130.5" y="387">1</text><text x="130.5" y="393">4</text><text x="130.5" y="400">3</text><text x="130.5" y="406">5</text><text x="96" y="369">2</text><text x="96" y="427">6</text></g>
<path class="lb" d="M134,388l3,-2.8h15v5.6h-15zM134,394l3,-2.8h15v5.6h-15zM134,401l3,-2.8h15v5.6h-15zM134,407l3,-2.8h15v5.6h-15z"/>
<g class="r" font-size="4.6"><text x="138" y="390">MISO</text><text x="138" y="396">MOSI</text><text x="138" y="403">SCK</text><text x="138" y="409">Reset</text></g>
<g class="t" text-anchor="middle"><text x="98" y="352">VCC</text><text x="98" y="442">GND</text><text x="80" y="394">J1</text><text x="69" y="400">AVR-ISP-6</text></g>
<text class="bl" x="164" y="452" text-anchor="end">AVR ISP</text>

<!-- ===== Connecteur USB ===== -->
<path class="w" d="M198,364V366M198,380V390M198,397V405M240,368H277V363M283,385V389H288V396M280,389V396M280,389H283M243,410H246M243,416H246"/>
<use href="#vcc" x="198" y="363"/><use href="#gnd" x="198" y="405"/><use href="#vcc" x="277" y="363"/>
<rect x="195.5" y="366" width="5" height="14" class="rs"/>
<path d="M194,390h8l-4,7zM194,397h8" fill="#840000" stroke="#840000" stroke-width=".8"/>
<path class="p" d="M203,398l3,3M204,396l3,3"/>
<g class="t" font-size="4.5"><text transform="translate(204,368) rotate(90)">220R</text><text transform="translate(209,370) rotate(90)">R3</text><text transform="translate(204,388) rotate(90)">LED</text><text transform="translate(209,388) rotate(90)">D1</text></g>
<path class="p" d="M229,362h11M229,368h11M229,375h11M192,441h14M192,448h14"/>
<g class="n" text-anchor="middle"><text x="234" y="361">1</text><text x="234" y="367">2</text><text x="234" y="374">3</text><text x="199" y="440">1</text><text x="199" y="447">2</text><text x="265" y="409">2</text><text x="265" y="415">3</text><text x="265" y="430">1</text></g>
<path class="lb" d="M240,362l3,-2.8h18v5.6h-18zM240,375l3,-2.8h18v5.6h-18zM206,441l3,-2.8h15v5.6h-15zM206,448l3,-2.8h15v5.6h-15z"/>
<path class="lb" d="M243,410l-3,-2.8h-12v5.6h12zM243,416l-3,-2.8h-12v5.6h12zM262,431l-3,-2.8h-16v5.6h16z"/>
<g class="r" font-size="4.6"><text x="244" y="364">VUSB</text><text x="244" y="377">VBAT</text><text x="210" y="443">VUSB</text><text x="210" y="450">ALIM</text><text x="229.5" y="412">D−</text><text x="229.5" y="418">D+</text><text x="244.5" y="433">VBUS</text></g>
<rect x="246" y="407.5" width="13" height="5" class="rs"/><rect x="246" y="413.5" width="13" height="5" class="rs"/>
<g class="r" font-size="3.8" text-anchor="middle"><text x="252.5" y="411.5">R4</text><text x="252.5" y="417.5">R5</text></g>
<path class="p" d="M259,410h10M259,416h10M262,431h7"/>
<rect x="269" y="396" width="29" height="41" class="bd"/>
<g class="t" font-size="4.5"><text x="271" y="412">D−</text><text x="271" y="418">D+</text><text x="271" y="433">VBUS</text><text transform="translate(282,398) rotate(90)">GND</text><text transform="translate(289,398) rotate(90)">Shield</text></g>
<path d="M282,423h12M282,423l-2,0M294,423l-3,-2v4zM285,423l3,-4h3M287,423l3,4h2" stroke="#840000" stroke-width="1" fill="#840000"/>
<rect x="286" y="429" width="8" height="3" fill="#840000"/>
<use href="#dot" x="283" y="389"/>
<path d="M280.5,384h5l-2.5,-3z" class="p"/>
<g class="t" text-anchor="middle"><text x="198" y="352">VCC</text><text x="198" y="418">GND</text><text x="233" y="352">J3</text><text x="277" y="356">VCC</text><text x="284" y="378">GND</text><text x="251" y="403">22</text><text x="251" y="426">22</text><text x="197" y="433">J2</text></g>
<text class="bl" x="306" y="452" text-anchor="end">Connecteur USB</text>
</svg>
</body></html>
